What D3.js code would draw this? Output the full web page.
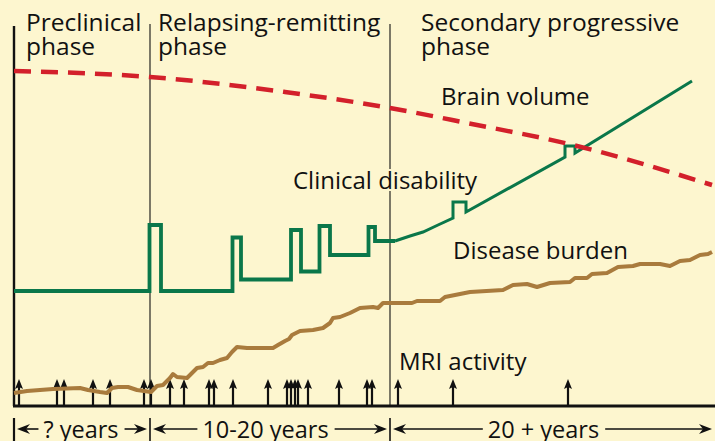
<!DOCTYPE html>
<html>
<head>
<meta charset="utf-8">
<script src="https://cdn.jsdelivr.net/npm/d3@7"></script>
<style>
  body { margin: 0; background: #fdf6cf; }
  svg { display: block; }
  text { font-family: "Open Sans", "Noto Sans", sans-serif; fill: #111; }
</style>
</head>
<body>
<svg id="chart" width="715" height="441"></svg>
<script>
// ----------------------
// data (arbitrary time / level units)
// ----------------------
const phaseBounds = [0, 27.2, 75.2, 140];
const phaseTitles = [["Preclinical", "phase"], ["Relapsing-remitting", "phase"], ["Secondary progressive", "phase"]];
const phaseTitleX = [2.4, 28.8, 81.4];
const spanLabels = ["? years", "10-20 years", "20 + years"];
const spanLabelX = [13.4, 50.3, 105.9];

const brainVolume = [
  [0, 67], [27.2, 65.8], [54.2, 62.8], [75.2, 59.6], [90.6, 56.6], [111.8, 52.2], [139.6, 44.2]
];

// relapsing part: step-like relapses and partial recovery
const disabilityRelapsing = [
  [0, 23], [27.1, 23], [27.1, 36.2], [29.4, 36.2], [29.4, 23], [43.7, 23], [43.7, 33.7],
  [45.4, 33.7], [45.4, 25.3], [55.4, 25.3], [55.4, 35.2], [57.4, 35.2], [57.4, 26.9],
  [61.1, 26.9], [61.1, 36], [63.2, 36], [63.2, 30.2], [70.9, 30.2], [70.9, 35.8],
  [72.2, 35.8], [72.2, 33], [76.2, 33]
];
const disabilityProgressive = [
  [76.2, 33], [79.2, 34], [81.8, 34.8], [84.8, 36.2], [87.8, 37.6], [87.8, 40.8],
  [90.4, 40.8], [90.4, 38.8], [110.2, 49.8], [110.2, 52], [112.2, 52], [112.2, 50.6],
  [135.6, 65]
];

const diseaseBurden = [
  [0, 2.6], [2.6, 3], [7.8, 3.4], [13.2, 3.6], [14.8, 3.2], [17.2, 2.8], [18.6, 2.6],
  [19.6, 3.6], [20.8, 3.8], [22.8, 3.8], [24.6, 3.2], [27.4, 2.8], [28.6, 4], [29.8, 4.2],
  [31.2, 5.6], [31.8, 6.4], [32.6, 5.8], [34.6, 5.6], [35.6, 6.6], [36.6, 7.6], [37.8, 7.8],
  [38.8, 8.6], [39.8, 8.6], [41.2, 9.2], [42.6, 9.6], [43.6, 10.8], [44.6, 11.8], [46.6, 11.6],
  [51.8, 11.6], [52.8, 12.2], [54.2, 13], [55, 13.4], [55.6, 14.2], [57.2, 15], [59.8, 15.2],
  [61.8, 15.6], [63.2, 16.6], [63.8, 17.6], [65.2, 17.8], [67.2, 18.6], [69.2, 19.6],
  [71.8, 19.8], [72.8, 19.6], [73.8, 20.6], [79.6, 20.6], [80.6, 21], [85.2, 21], [86.2, 21.8],
  [91.2, 22.8], [97.8, 23.2], [99.8, 24.2], [102.6, 24.4], [104.6, 23.8], [107.2, 24.6],
  [111.2, 24.8], [112.2, 25.6], [114.6, 25.6], [115.6, 26.4], [118.6, 26.6], [120.8, 27.8],
  [123.8, 28], [125.2, 28.4], [129.2, 28.4], [131.2, 28], [133.2, 29], [135.2, 29.2],
  [137.2, 30.2], [138.8, 30.4], [139.6, 30.8]
];

const mriEvents = [1, 8.6, 10, 15.8, 19.2, 26, 27.4, 31.2, 34, 39, 40, 43.8, 50.8, 54.6,
  55.4, 56.2, 56.8, 58.8, 65, 70.6, 71.6, 76.8, 87.8, 110.8];
const mriHeight = 5.4;

const curveLabels = [
  { text: "Brain volume", x: 85.4, y: 60.2 },
  { text: "Clinical disability", x: 55.8, y: 43.4 },
  { text: "Disease burden", x: 87.8, y: 29.4 },
  { text: "MRI activity", x: 77, y: 7.2 }
];

// ----------------------
// layout
// ----------------------
const svg = d3.select("#chart");
const width = +svg.attr("width");
const height = +svg.attr("height");
const bg = "#fdf6cf";

const x = d3.scaleLinear().domain([0, 140]).range([14, 714]);
const y = d3.scaleLinear().domain([0, 76]).range([406, 26]);

const spanY = 429;     // bottom arrows
const spanBase = 438;  // bottom text baseline

svg.append("rect").attr("width", width).attr("height", height).attr("fill", bg);

// phase dividers
phaseBounds.slice(1, 3).forEach(b => {
  svg.append("line")
    .attr("x1", x(b)).attr("x2", x(b))
    .attr("y1", y(76.4)).attr("y2", y(0))
    .attr("stroke", "#111").attr("stroke-width", 1.1);
});
// little bars under the axis
phaseBounds.slice(0, 3).forEach((b, i) => {
  svg.append("line")
    .attr("x1", x(b)).attr("x2", x(b))
    .attr("y1", 418).attr("y2", height)
    .attr("stroke", "#111").attr("stroke-width", i === 0 ? 2.2 : 1.6);
});

// axes
svg.append("line")
  .attr("x1", x(0)).attr("x2", x(0))
  .attr("y1", y(76)).attr("y2", y(0))
  .attr("stroke", "#111").attr("stroke-width", 2.4);
svg.append("line")
  .attr("x1", x(0) - 1).attr("x2", width)
  .attr("y1", y(0)).attr("y2", y(0))
  .attr("stroke", "#111").attr("stroke-width", 3);

// phase titles
phaseTitles.forEach((t, i) => {
  t.forEach((line, j) => {
    svg.append("text")
      .attr("x", x(phaseTitleX[i]))
      .attr("y", y(75) + j * 24)
      .attr("font-size", 24.5)
      .text(line);
  });
});

// MRI activity arrows
const mriG = svg.append("g");
mriEvents.forEach(m => {
  const px = x(m), tip = y(mriHeight);
  mriG.append("line")
    .attr("x1", px).attr("x2", px)
    .attr("y1", y(0)).attr("y2", tip + 5)
    .attr("stroke", "#111").attr("stroke-width", 2.2);
  mriG.append("path")
    .attr("d", `M${px},${tip} L${px - 4},${tip + 10} L${px},${tip + 8} L${px + 4},${tip + 10} Z`)
    .attr("fill", "#111");
});

// lines
const line = d3.line().x(d => x(d[0])).y(d => y(d[1]));
const smooth = d3.line().x(d => x(d[0])).y(d => y(d[1])).curve(d3.curveMonotoneX);

svg.append("path")
  .datum(diseaseBurden)
  .attr("d", line)
  .attr("fill", "none")
  .attr("stroke", "#a97b3d")
  .attr("stroke-width", 4)
  .attr("stroke-linejoin", "round");

svg.append("path")
  .datum(disabilityRelapsing)
  .attr("d", line)
  .attr("fill", "none")
  .attr("stroke", "#0a774a")
  .attr("stroke-width", 3.8);

svg.append("path")
  .datum(disabilityProgressive)
  .attr("d", line)
  .attr("fill", "none")
  .attr("stroke", "#0a774a")
  .attr("stroke-width", 3);

svg.append("path")
  .datum(brainVolume)
  .attr("d", smooth)
  .attr("fill", "none")
  .attr("stroke", "#d3202b")
  .attr("stroke-width", 4.5)
  .attr("stroke-dasharray", "17,10");

// curve labels
curveLabels.forEach(l => {
  svg.append("text")
    .attr("x", x(l.x))
    .attr("y", y(l.y))
    .attr("font-size", 24)
    .attr("stroke", bg)
    .attr("stroke-width", 4)
    .attr("paint-order", "stroke")
    .text(l.text);
});

// bottom span labels with arrows
const headLeft = (tx, ty) => `M${tx},${ty} L${tx + 13},${ty - 5} L${tx + 9},${ty} L${tx + 13},${ty + 5} Z`;
const headRight = (tx, ty) => `M${tx},${ty} L${tx - 13},${ty - 5} L${tx - 9},${ty} L${tx - 13},${ty + 5} Z`;

spanLabels.forEach((s, i) => {
  const t = svg.append("text")
    .attr("x", x(spanLabelX[i]))
    .attr("y", spanBase)
    .attr("text-anchor", "middle")
    .attr("font-size", 23.5)
    .text(s);
  const w = t.node().getComputedTextLength();
  const left = x(phaseBounds[i]) + 3;
  const right = i === 2 ? width - 3 : x(phaseBounds[i + 1]) - 3;
  const t0 = x(spanLabelX[i]) - w / 2 - 5;
  const t1 = x(spanLabelX[i]) + w / 2 + 6;

  svg.append("line").attr("x1", left + 8).attr("x2", t0)
    .attr("y1", spanY).attr("y2", spanY).attr("stroke", "#111").attr("stroke-width", 1.6);
  svg.append("line").attr("x1", t1).attr("x2", right - 8)
    .attr("y1", spanY).attr("y2", spanY).attr("stroke", "#111").attr("stroke-width", 1.6);
  svg.append("path").attr("d", headLeft(left, spanY)).attr("fill", "#111");
  svg.append("path").attr("d", headRight(right, spanY)).attr("fill", "#111");
});
</script>
</body>
</html>
